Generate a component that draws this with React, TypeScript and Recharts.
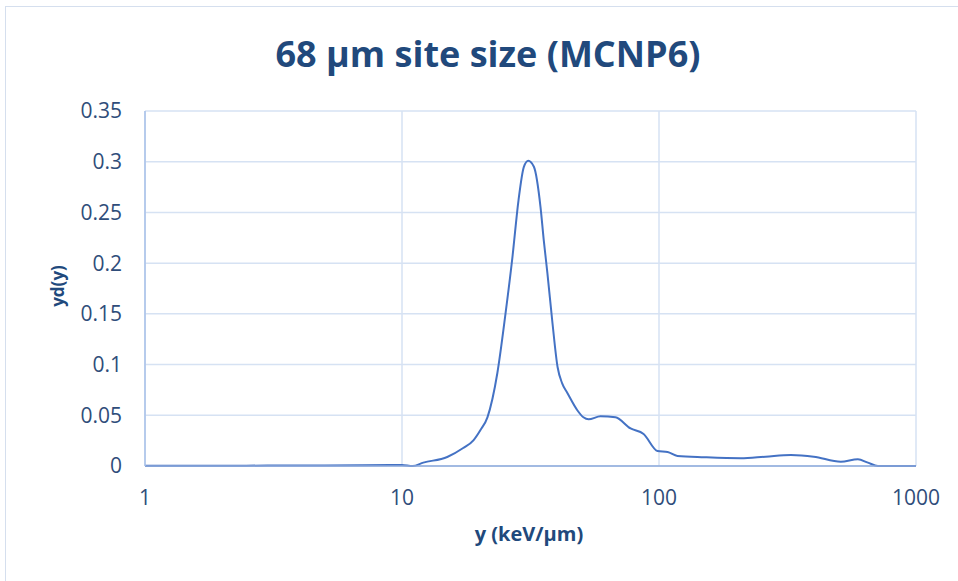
import { LineChart, Line, XAxis, YAxis, CartesianGrid } from "recharts";

// lineal energy (keV/µm) and yd(y)
const yValues = [
  1, 2, 3, 5, 7, 9, 10, 11, 12.1, 15, 17.3, 19, 20.2, 21.5, 23.5, 25.3, 26.9,
  28.4, 29.8, 31, 32.6, 34.6, 35.6, 36.8, 38.5, 40.3, 42, 44, 48.1, 50.8, 53.2,
  59.2, 67.7, 77.5, 87.1, 98.7, 108, 118, 150, 208, 260, 326, 400, 510, 594,
  650, 711, 800, 1000,
];
const ydy = [
  0.0002, 0.0003, 0.0004, 0.0005, 0.0007, 0.0009, 0.001, 0, 0.0033, 0.0089,
  0.0177, 0.0256, 0.0355, 0.048, 0.0917, 0.151, 0.206, 0.262, 0.295, 0.301,
  0.295, 0.255, 0.223, 0.19, 0.141, 0.0976, 0.0815, 0.072, 0.055, 0.048, 0.046,
  0.049, 0.048, 0.037, 0.0316, 0.0148, 0.0138, 0.0099, 0.0086, 0.0076, 0.0092,
  0.0108, 0.0092, 0.0042, 0.0066, 0.0033, 0, 0, 0,
];
const xTicks = [1, 10, 100, 1000];
const yTicks = [0, 0.05, 0.1, 0.15, 0.2, 0.25, 0.3, 0.35];

const chartData = yValues.map((x, i) => ({ x, v: ydy[i] }));

const font = "'Open Sans', sans-serif";
const navy = "#21497c";
const tickStyle = { fontSize: 21, fill: "#2f4d7a", fontFamily: font };

export default function App() {
  return (
    <div
      style={{
        position: "fixed",
        left: 0,
        top: 0,
        width: 958,
        height: 581,
        overflow: "hidden",
        background: "#fff",
      }}
    >
      {/* outer chart frame */}
      <div
        style={{
          position: "absolute",
          left: 5,
          top: 6,
          width: 1000,
          height: 1000,
          border: "1px solid #d5dfee",
        }}
      />

      <LineChart
        width={958}
        height={581}
        data={chartData}
        margin={{ top: 111, right: 42, bottom: 0, left: 0 }}
        style={{ position: "absolute", left: 0, top: 0 }}
      >
        <CartesianGrid stroke="#d6e2f3" strokeWidth={1.5} />
        <XAxis
          dataKey="x"
          type="number"
          scale="log"
          domain={[1, 1000]}
          ticks={xTicks}
          allowDataOverflow
          height={115}
          tickSize={0}
          tickMargin={24}
          tick={tickStyle}
          axisLine={{ stroke: "#8eaadb", strokeWidth: 1.5 }}
        />
        <YAxis
          type="number"
          domain={[0, 0.35]}
          ticks={yTicks}
          width={145}
          tickSize={0}
          tickMargin={23}
          tick={tickStyle}
          axisLine={{ stroke: "#a9c1e8", strokeWidth: 1.5 }}
        />
        <Line
          type="monotone"
          dataKey="v"
          stroke="#4472c4"
          strokeWidth={2}
          dot={false}
          isAnimationActive={false}
        />
      </LineChart>

      {/* titles */}
      <svg
        width={958}
        height={581}
        style={{ position: "absolute", left: 0, top: 0, pointerEvents: "none" }}
      >
        <text
          x={488}
          y={67}
          textAnchor="middle"
          fontFamily={font}
          fontWeight={700}
          fontSize={36}
          fill={navy}
        >
          68 µm site size (MCNP6)
        </text>
        <text
          x={529}
          y={541}
          textAnchor="middle"
          fontFamily={font}
          fontWeight={700}
          fontSize={20}
          fill={navy}
        >
          y (keV/µm)
        </text>
        <text
          x={64}
          y={286}
          textAnchor="middle"
          transform="rotate(-90, 64, 286)"
          fontFamily={font}
          fontWeight={700}
          fontSize={17}
          fill={navy}
        >
          yd(y)
        </text>
      </svg>
    </div>
  );
}
